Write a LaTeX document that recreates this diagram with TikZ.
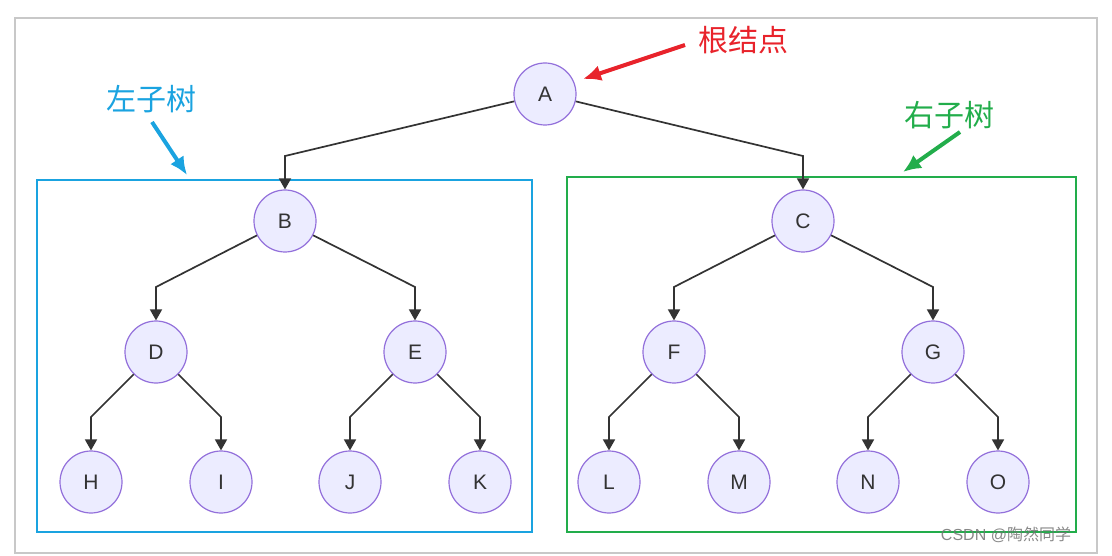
\documentclass[tikz,border=0pt]{standalone}
\usepackage{fontspec}
\setmainfont{Liberation Sans}
\newfontfamily\cjk{Noto Sans CJK SC}
\usetikzlibrary{arrows.meta,calc}
\definecolor{nodefill}{HTML}{ECECFF}
\definecolor{nodeline}{HTML}{9370DB}
\definecolor{edgec}{HTML}{333333}
\definecolor{bluec}{HTML}{1AA3E0}
\definecolor{greenc}{HTML}{22AD4B}
\definecolor{redc}{HTML}{E8232B}
\definecolor{framec}{HTML}{C8C8C8}
\begin{document}
\begin{tikzpicture}[x=1pt,y=-1pt,
  tnode/.style={circle,draw=nodeline,fill=nodefill,line width=1.2pt,minimum size=62pt,inner sep=0pt,font=\fontsize{21}{24}\selectfont,text=edgec},
  edge/.style={draw=edgec,line width=1.7pt,-{Triangle[length=11pt,width=12pt]}},
  callout/.style={line width=4pt,-{Latex[length=18pt,width=16pt]}},
  lbl/.style={font=\cjk\fontsize{30}{30}\selectfont},
  subbox/.style={line width=2.7pt}]
\useasboundingbox (0,0) rectangle (1112,556);
\draw[framec,line width=1.3pt] (15,18) rectangle (1097,553);
% subtree boxes
\draw[subbox,bluec] (37,180) rectangle (532,532);
\draw[subbox,greenc] (567,177) rectangle (1076,532);
% nodes
\node[tnode] (A) at (545,94) {A};
\node[tnode] (B) at (285,221) {B};
\node[tnode] (C) at (803,221) {C};
\node[tnode] (D) at (156,352) {D};
\node[tnode] (E) at (415,352) {E};
\node[tnode] (F) at (674,352) {F};
\node[tnode] (G) at (933,352) {G};
\node[tnode] (H) at (91,482) {H};
\node[tnode] (I) at (221,482) {I};
\node[tnode] (J) at (350,482) {J};
\node[tnode] (K) at (480,482) {K};
\node[tnode] (L) at (609,482) {L};
\node[tnode] (M) at (739,482) {M};
\node[tnode] (N) at (868,482) {N};
\node[tnode] (O) at (998,482) {O};
% edges
\foreach \p/\c in {A/B,A/C,B/D,B/E,C/F,C/G,D/H,D/I,E/J,E/K,F/L,F/M,G/N,G/O}{
  \draw[edge] (\p) -- ($(\c)+(0,-65)$) -- (\c);
}
% labels
\node[lbl,text=redc] (rootlbl) at (743,40) {根结点};
\node[lbl,text=bluec] (leftlbl) at (151,99) {左子树};
\node[lbl,text=greenc] (rightlbl) at (949,115) {右子树};
\coordinate (r1) at (685,45); \coordinate (r2) at (583,79);
\coordinate (b1) at (152,122); \coordinate (b2) at (187,175);
\coordinate (g1) at (960,132); \coordinate (g2) at (903,172);
\draw[callout,redc] (r1) -- (r2);
\draw[callout,bluec] (b1) -- (b2);
\draw[callout,greenc] (g1) -- (g2);
% watermark
\node[text=black!55,opacity=0.85,font=\fontsize{16}{16}\selectfont] (wm) at (1006,535) {CSDN @{\cjk 陶然同学}};
\end{tikzpicture}
\end{document}
